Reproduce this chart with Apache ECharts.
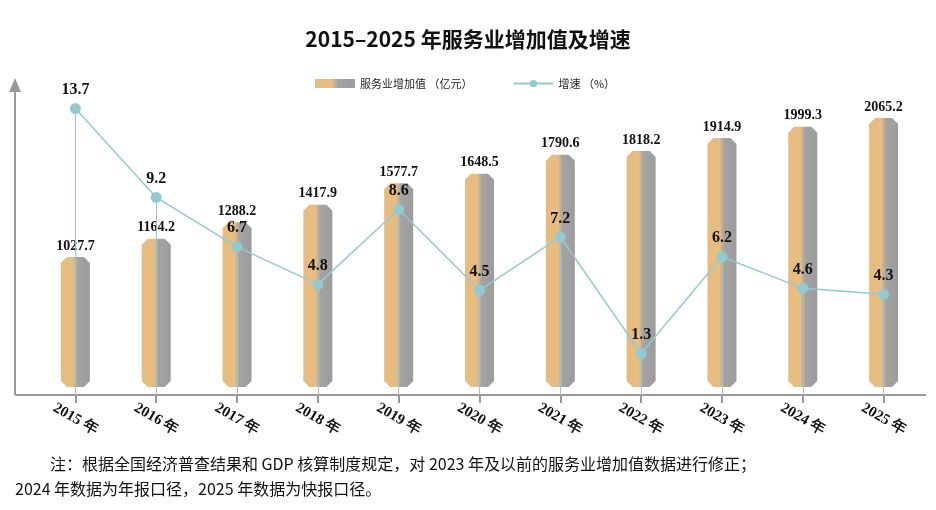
<!DOCTYPE html>
<html><head><meta charset="utf-8">
<script src="https://cdn.jsdelivr.net/npm/echarts@6/dist/echarts.min.js"></script>
<style>body{margin:0;background:#fff}#chart{width:936px;height:510px}</style>
</head><body><div id="chart"></div>
<script>
const years = ["2015 年","2016 年","2017 年","2018 年","2019 年","2020 年","2021 年","2022 年","2023 年","2024 年","2025 年"];
const valueAdded = [1027.7,1164.2,1288.2,1417.9,1577.7,1648.5,1790.6,1818.2,1914.9,1999.3,2065.2];
const growth = [13.7,9.2,6.7,4.8,8.6,4.5,7.2,1.3,6.2,4.6,4.3];

const GROWTH_MIN = -0.8;
const chart = echarts.init(document.getElementById("chart"));
const barFill = new echarts.graphic.LinearGradient(0, 0, 1, 0, [
  { offset: 0, color: "#e8bb7c" },
  { offset: 0.42, color: "#e6bd85" },
  { offset: 0.58, color: "#a3a3a3" },
  { offset: 1, color: "#9c9c9c" }
]);

function renderBar(params, api) {
  const top = api.coord([api.value(0), api.value(1)]);
  const base = api.coord([api.value(0), 0]);
  const w = 29, c = 6;
  const x0 = top[0] - w / 2, x1 = top[0] + w / 2;
  const y0 = top[1], y1 = base[1] - 8;
  return {
    type: "group",
    children: [
      {
        type: "polygon",
        shape: { points: [[x0, y0 + c], [x0 + c, y0], [x1 - c, y0], [x1, y0 + c], [x1, y1 - c], [x1 - c, y1], [x0 + c, y1], [x0, y1 - c]] },
        style: { fill: barFill }
      },
      {
        type: "text", x: top[0], y: y0 - 4,
        style: { text: api.value(1).toFixed(1), textAlign: "center", textVerticalAlign: "bottom", fill: "#111", fontSize: 14, fontWeight: "bold", fontFamily: "Liberation Serif" }
      }
    ]
  };
}

const dropLines = growth.map((v, i) => [{ coord: [i, v] }, { coord: [i, GROWTH_MIN] }]);

chart.setOption({
  animation: false,
  title: {
    text: "2015–2025 年服务业增加值及增速", left: "center", top: 24,
    textStyle: { fontSize: 21, fontWeight: "bold", color: "#111", fontFamily: "Noto Sans CJK SC" }
  },
  legend: {
    top: 73, left: 310, itemGap: 40, itemWidth: 40, itemHeight: 9,
    textStyle: { fontSize: 11, color: "#222", fontFamily: "Noto Sans CJK SC" },
    data: [
      { name: "服务业增加值 （亿元）", icon: "rect", itemStyle: { color: barFill } },
      { name: "增速 （%）" }
    ]
  },
  grid: { left: 35, right: 12, top: 73, bottom: 115 },
  xAxis: {
    type: "category", data: years,
    axisLine: { show: false },
    axisTick: { show: true, alignWithLabel: true, length: 8, lineStyle: { color: "#999", width: 2 } },
    axisLabel: { rotate: -30, align: "center", margin: 24, color: "#111", fontSize: 15, fontWeight: "bold", fontFamily: "Liberation Serif", interval: 0 }
  },
  yAxis: [
    { type: "value", min: 0, max: 2400, show: false },
    { type: "value", min: GROWTH_MIN, max: 15.5, show: false }
  ],
  graphic: [
    { type: "line", shape: { x1: 15, y1: 395, x2: 926, y2: 395 }, style: { stroke: "#999", lineWidth: 2 } },
    { type: "line", shape: { x1: 15, y1: 395, x2: 15, y2: 86 }, style: { stroke: "#999", lineWidth: 2 } },
    { type: "polygon", shape: { points: [[9, 92], [15, 78], [21, 92]] }, style: { fill: "#999" } },
    { type: "text", left: 50, top: 456, style: { text: "注：根据全国经济普查结果和 GDP 核算制度规定，对 2023 年及以前的服务业增加值数据进行修正；", fontSize: 16, fill: "#111", fontFamily: "Noto Sans CJK SC" } },
    { type: "text", left: 15, top: 481, style: { text: "2024 年数据为年报口径，2025 年数据为快报口径。", fontSize: 16, fill: "#111", fontFamily: "Noto Sans CJK SC" } }
  ],
  series: [
    {
      name: "服务业增加值 （亿元）", type: "custom", renderItem: renderBar,
      encode: { x: 0, y: 1 },
      data: valueAdded.map((v, i) => [i, v]),
      z: 1
    },
    {
      name: "增速 （%）", type: "line", yAxisIndex: 1, data: growth,
      symbol: "circle", symbolSize: 11,
      lineStyle: { color: "#94c9d2", width: 1.5 }, itemStyle: { color: "#94c9d2" },
      label: { show: true, position: "top", distance: 5, formatter: p => p.value.toFixed(1), color: "#111", fontSize: 16, fontWeight: "bold", fontFamily: "Liberation Serif" },
      markLine: { silent: true, symbol: "none", label: { show: false }, lineStyle: { color: "#94c9d2", width: 1, type: "solid" }, data: dropLines },
      z: 3
    }
  ]
});
</script></body></html>
